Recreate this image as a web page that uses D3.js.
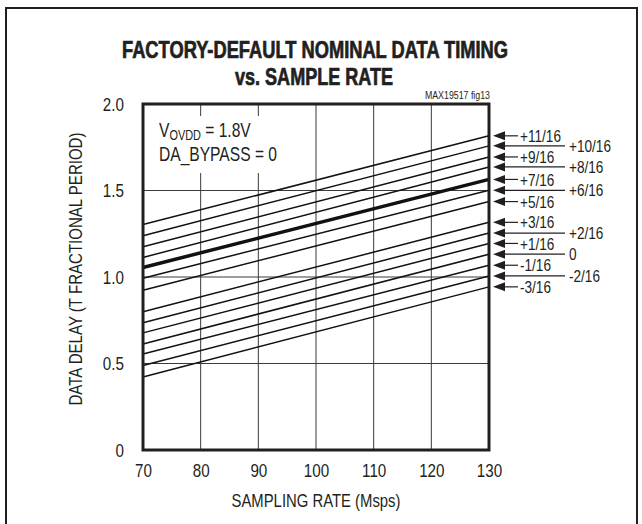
<!DOCTYPE html>
<html>
<head>
<meta charset="utf-8">
<script src="https://cdn.jsdelivr.net/npm/d3@7"></script>
<style>
body { margin: 0; background: #fff; }
text { font-family: 'Liberation Sans', Arial, sans-serif; fill: #231f20; }
</style>
</head>
<body>
<svg width="642" height="524"></svg>
<script>
// sampling rate end points (Msps)
var rates = [70, 130];
// delay setting of each curve, top to bottom
var offsets = ["+11/16", "+10/16", "+9/16", "+8/16", "+7/16", "+6/16", "+5/16",
               "+3/16", "+2/16", "+1/16", "0", "-1/16", "-2/16", "-3/16"];
// data delay read at 70 Msps and at 130 Msps
var delayAt70  = [1.303, 1.239, 1.175, 1.113, 1.055, 0.993, 0.923,
                  0.799, 0.735, 0.677, 0.613, 0.555, 0.488, 0.422];
var delayAt130 = [1.816, 1.758, 1.694, 1.636, 1.564, 1.501, 1.436,
                  1.316, 1.254, 1.194, 1.132, 1.068, 1.006, 0.943];
var boldCurve = "+7/16";
var xTicks = [70, 80, 90, 100, 110, 120, 130];
var yTicks = [0, 0.5, 1.0, 1.5, 2.0];

var margin = {top: 104, right: 153, bottom: 74, left: 143};
var width = 642, height = 524;
var innerwidth = width - margin.left - margin.right;
var innerheight = height - margin.top - margin.bottom;

// squeeze text to look like a condensed face
function condense(sel, k) {
	sel.each(function() {
		var w = this.getComputedTextLength();
		d3.select(this).attr("textLength", w * k).attr("lengthAdjust", "spacingAndGlyphs");
	});
}

var svg = d3.select("svg");

// outer frame
svg.append("rect")
	.attr("x", 6).attr("y", 8)
	.attr("width", 631).attr("height", 530)
	.attr("fill", "none")
	.attr("stroke", "#231f20")
	.attr("stroke-width", 2);

var x = d3.scaleLinear().domain([70, 130]).range([0, innerwidth]);
var y = d3.scaleLinear().domain([0, 2]).range([innerheight, 0]);

var g = svg.append("g").attr("transform", "translate(" + margin.left + "," + margin.top + ")");

// grid
g.append("g").selectAll("line").data(xTicks.slice(1, -1)).enter().append("line")
	.attr("x1", d => x(d)).attr("x2", d => x(d))
	.attr("y1", 0).attr("y2", innerheight)
	.attr("stroke", "#3a3a3a").attr("stroke-width", 1);
g.append("g").selectAll("line").data(yTicks.slice(1, -1)).enter().append("line")
	.attr("x1", 0).attr("x2", innerwidth)
	.attr("y1", d => y(d)).attr("y2", d => y(d))
	.attr("stroke", "#3a3a3a").attr("stroke-width", 1);

// note box hides the grid behind it
g.append("rect")
	.attr("x", 8).attr("y", 12)
	.attr("width", 124).attr("height", 57)
	.attr("fill", "#fff");
var noteG = g.append("g").attr("transform", "translate(16,0) scale(0.78,1)");
var note = noteG.append("text")
	.attr("x", 0).attr("y", 33)
	.style("font-size", "20px");
note.append("tspan").text("V");
note.append("tspan").text("OVDD").style("font-size", "14px").attr("dy", 3);
note.append("tspan").text(" = 1.8V").attr("dy", -3);
noteG.append("text")
	.attr("x", 0).attr("y", 57)
	.style("font-size", "20px")
	.text("DA_BYPASS = 0");

// curves
var line = d3.line().x(d => x(d.rate)).y(d => y(d.delay));
var series = offsets.map((name, i) => ({
	name: name,
	values: [{rate: rates[0], delay: delayAt70[i]}, {rate: rates[1], delay: delayAt130[i]}]
}));
g.append("g").selectAll("path").data(series).enter().append("path")
	.attr("d", d => line(d.values))
	.attr("fill", "none")
	.attr("stroke", "#111")
	.attr("stroke-width", d => d.name == boldCurve ? 3.5 : 1.5);

// plot frame
g.append("rect")
	.attr("width", innerwidth).attr("height", innerheight)
	.attr("fill", "none")
	.attr("stroke", "#231f20")
	.attr("stroke-width", 3);

// axes
var xAxis = g.append("g")
	.attr("transform", "translate(0," + innerheight + ")")
	.call(d3.axisBottom(x).tickValues(xTicks).tickSize(0).tickPadding(14));
var yAxis = g.append("g")
	.call(d3.axisLeft(y).tickValues(yTicks).tickSize(0).tickPadding(19)
		.tickFormat(d => d == 0 ? "0" : d3.format(".1f")(d)));
[xAxis, yAxis].forEach(a => {
	a.select(".domain").remove();
	a.selectAll("text").style("font-size", "19px").attr("fill", "#231f20")
		.style("font-family", "'Liberation Sans', Arial, sans-serif")
		.call(condense, 0.8);
});

// curve labels with arrows
var labels = g.append("g").selectAll("g").data(series).enter().append("g")
	.attr("transform", d => "translate(" + (innerwidth + 4) + "," + y(d.values[1].delay) + ")");
labels.append("path")
	.attr("d", "M0,0L12,-4.5L12,4.5Z")
	.attr("fill", "#231f20");
function isFar(name) { return parseInt(name) % 2 == 0; }
labels.append("line")
	.attr("x1", 12).attr("y1", 0)
	.attr("x2", d => isFar(d.name) ? 72 : 25).attr("y2", 0)
	.attr("stroke", "#231f20").attr("stroke-width", 1.2);
labels.append("text")
	.attr("x", d => isFar(d.name) ? 76 : 27)
	.attr("dy", "0.36em")
	.style("font-size", "17px")
	.text(d => d.name)
	.call(condense, 0.8);

// titles
svg.append("text")
	.attr("x", 315).attr("y", 58)
	.attr("text-anchor", "middle")
	.attr("textLength", 386).attr("lengthAdjust", "spacingAndGlyphs")
	.style("font-size", "23px").style("font-weight", "bold")
	.style("stroke", "#231f20").style("stroke-width", 0.7)
	.text("FACTORY-DEFAULT NOMINAL DATA TIMING");
svg.append("text")
	.attr("x", 314).attr("y", 85)
	.attr("text-anchor", "middle")
	.attr("textLength", 158).attr("lengthAdjust", "spacingAndGlyphs")
	.style("font-size", "23px").style("font-weight", "bold")
	.style("stroke", "#231f20").style("stroke-width", 0.7)
	.text("vs. SAMPLE RATE");
svg.append("text")
	.attr("x", 490).attr("y", 99)
	.attr("text-anchor", "end")
	.style("font-size", "11px")
	.text("MAX19517 fig13")
	.call(condense, 0.8);
svg.append("text")
	.attr("x", 316).attr("y", 507)
	.attr("text-anchor", "middle")
	.attr("textLength", 169).attr("lengthAdjust", "spacingAndGlyphs")
	.style("font-size", "18px")
	.text("SAMPLING RATE (Msps)");
svg.append("text")
	.attr("transform", "translate(82," + (margin.top + 165) + ") rotate(-90)")
	.attr("text-anchor", "middle")
	.attr("textLength", 273).attr("lengthAdjust", "spacingAndGlyphs")
	.style("font-size", "18px")
	.text("DATA DELAY (T FRACTIONAL PERIOD)");
</script>
</body>
</html>
